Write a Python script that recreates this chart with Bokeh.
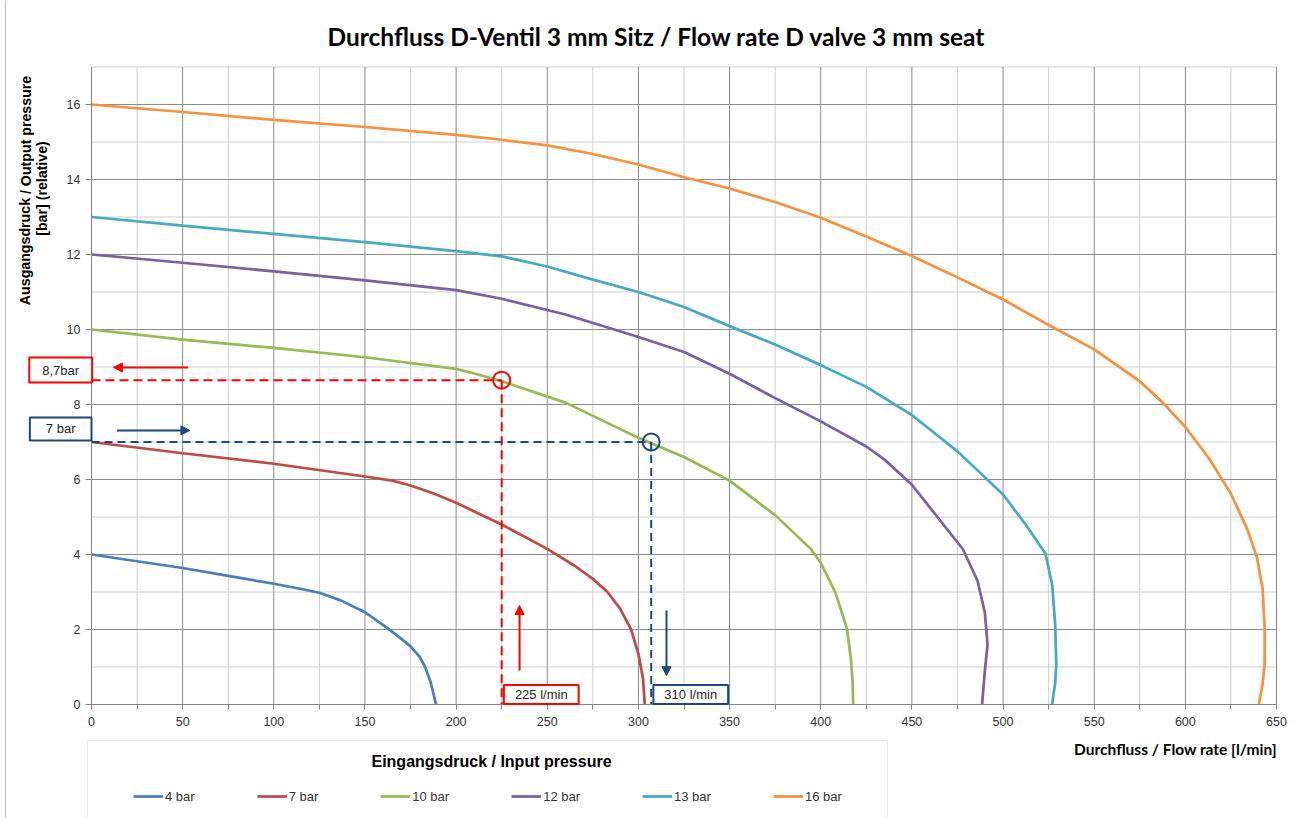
from bokeh.plotting import figure
from bokeh.models import (Range1d, SingleIntervalTicker, Label, Legend, LegendItem,
                          Arrow, NormalHead, Span)
from bokeh.embed import file_html
from bokeh.resources import INLINE

# ---------------- data ----------------
title_text = "Durchfluss D-Ventil 3 mm Sitz / Flow rate D valve 3 mm seat"
x_title = "Durchfluss  / Flow rate  [l/min]"
y_title_1 = "Ausgangsdruck  / Output pressure"
y_title_2 = "[bar] (relative)"
legend_title = "Eingangsdruck / Input pressure"

series_names = ["4 bar", "7 bar", "10 bar", "12 bar", "13 bar", "16 bar"]
series_colors = ["#4A7EBB", "#BE4B48", "#98B954", "#7D60A0", "#46AAC5", "#F69240"]

flow_4 = [0, 25, 50, 75, 100, 115, 125, 137, 150, 162, 170, 175, 180, 183, 186, 187.5, 189]
press_4 = [4.0, 3.82, 3.64, 3.43, 3.22, 3.08, 2.98, 2.77, 2.46, 2.05, 1.75, 1.55, 1.27, 1.0, 0.6, 0.3, 0.0]

flow_7 = [0, 50, 100, 150, 165, 175, 187, 200, 212, 225, 250, 265, 275, 283, 290, 296, 300, 302.5, 303.5]
press_7 = [7.0, 6.70, 6.42, 6.08, 5.97, 5.84, 5.64, 5.38, 5.10, 4.80, 4.15, 3.70, 3.35, 3.0, 2.55, 2.0, 1.35, 0.7, 0.0]

flow_10 = [0, 50, 100, 150, 200, 212, 225, 260, 300, 325, 350, 375, 394.5, 400, 408, 414.3, 416.6, 417.5, 417.8]
press_10 = [10.0, 9.73, 9.51, 9.26, 8.95, 8.80, 8.62, 8.05, 7.11, 6.6, 5.97, 5.05, 4.15, 3.78, 2.99, 2.04, 1.2, 0.6, 0.0]

flow_12 = [0, 50, 100, 150, 200, 225, 260, 300, 325, 350, 375, 400, 425, 435, 450, 464, 478, 486, 490, 491.5, 490, 488.5]
press_12 = [12.0, 11.78, 11.55, 11.31, 11.05, 10.82, 10.40, 9.80, 9.40, 8.82, 8.17, 7.55, 6.88, 6.53, 5.86, 5.0, 4.14, 3.3, 2.46, 1.6, 0.88, 0.0]

flow_13 = [0, 50, 100, 150, 200, 225, 250, 275, 300, 325, 350, 375, 400, 425, 450, 475, 500, 512.7, 523.3, 527, 528.6, 529.2, 528.6, 526.9]
press_13 = [13.0, 12.77, 12.55, 12.33, 12.09, 11.95, 11.68, 11.33, 11.0, 10.6, 10.09, 9.6, 9.05, 8.47, 7.72, 6.75, 5.6, 4.78, 4.02, 3.18, 2.13, 1.08, 0.56, 0.0]

flow_16 = [0, 50, 100, 150, 200, 225, 250, 275, 300, 325, 350, 375, 400, 425, 450, 475, 500, 525, 550, 575, 588, 600, 613, 625, 634, 639.3, 642.4, 643.5, 643.5, 642.4, 640.3]
press_16 = [16.0, 15.80, 15.59, 15.40, 15.19, 15.06, 14.91, 14.68, 14.40, 14.06, 13.76, 13.40, 12.98, 12.48, 11.96, 11.39, 10.80, 10.12, 9.47, 8.62, 8.03, 7.40, 6.56, 5.62, 4.67, 3.92, 3.08, 2.03, 1.07, 0.56, 0.0]

series_flows = [flow_4, flow_7, flow_10, flow_12, flow_13, flow_16]
series_press = [press_4, press_7, press_10, press_12, press_13, press_16]

# example readings (red: 225 l/min -> 8,7 bar ; blue: 7 bar -> 310 l/min)
marker_flow = [225, 307]
marker_press = [8.65, 7.0]
marker_press_text = ["8,7bar", "7 bar"]
marker_flow_text = ["225 l/min", "310 l/min"]
marker_colors = ["#FF0000", "#1F497D"]

x_min, x_max = 0, 650
y_min, y_max = 0, 17

# ---------------- figure (frame = whole canvas) ----------------
W, H = 1304, 818
px_per_x = 1185 / 650.0      # pixels per l/min
px_per_y = 37.5              # pixels per bar
left_px, bottom_px = 91, 704  # where (0, 0) lies on the canvas

p = figure(width=W, height=H,
           x_range=Range1d(-left_px / px_per_x, (W - left_px) / px_per_x),
           y_range=Range1d(-(H - bottom_px) / px_per_y, bottom_px / px_per_y),
           output_backend="svg", toolbar_location=None, min_border=0,
           min_border_left=0, min_border_right=0, min_border_top=0, min_border_bottom=0)
p.title.visible = False
p.background_fill_color = "white"
p.border_fill_color = "white"
p.outline_line_color = None
p.xgrid.visible = False
p.ygrid.visible = False

# axes fixed at the origin
p.xaxis.fixed_location = 0
p.yaxis.fixed_location = 0
p.xaxis.bounds = (x_min, x_max)
p.yaxis.bounds = (y_min, y_max)
p.xaxis.ticker = SingleIntervalTicker(interval=50, num_minor_ticks=2)
p.yaxis.ticker = SingleIntervalTicker(interval=2, num_minor_ticks=2)
for ax in (p.xaxis[0], p.yaxis[0]):
    ax.axis_line_color = "#868686"
    ax.major_tick_line_color = "#868686"
    ax.minor_tick_line_color = "#868686"
    ax.major_tick_in = 0
    ax.minor_tick_in = 0
    ax.major_label_text_font = "Liberation Sans"
    ax.major_label_text_font_size = "12.5px"
    ax.major_label_text_color = "#333333"
p.xaxis.major_tick_out = 5
p.xaxis.minor_tick_out = 5
p.xaxis.major_label_standoff = 7
p.yaxis.major_tick_out = 6
p.yaxis.minor_tick_out = 0
p.yaxis.minor_tick_line_color = None
p.yaxis.major_label_standoff = 5

# grid (every 25 l/min and every 1 bar; darker every 50 l/min / 2 bar)
gx = list(range(x_min, x_max + 1, 25))
gy = list(range(y_min, y_max + 1, 1))
gx_minor = [v for v in gx if v % 50 != 0]
gx_major = [v for v in gx if v % 50 == 0]
gy_minor = [v for v in gy if v % 2 != 0]
gy_major = [v for v in gy if v % 2 == 0]
p.segment(x0=gx_minor, y0=[y_min] * len(gx_minor), x1=gx_minor, y1=[y_max] * len(gx_minor),
          line_color="#D0D0D0", line_width=1, level="underlay")
p.segment(x0=[x_min] * len(gy_minor), y0=gy_minor, x1=[x_max] * len(gy_minor), y1=gy_minor,
          line_color="#D0D0D0", line_width=1, level="underlay")
p.segment(x0=gx_major, y0=[y_min] * len(gx_major), x1=gx_major, y1=[y_max] * len(gx_major),
          line_color="#8C8C8C", line_width=1, level="underlay")
p.segment(x0=[x_min] * len(gy_major), y0=gy_major, x1=[x_max] * len(gy_major), y1=gy_major,
          line_color="#8C8C8C", line_width=1, level="underlay")

# chart-area border on the left
p.add_layout(Span(location=(5 - left_px) / px_per_x, dimension="height",
                  line_color="#BFBFBF", line_width=1))

# curves
renderers = []
for name, fx, py_, col in zip(series_names, series_flows, series_press, series_colors):
    r = p.line(fx, py_, line_color=col, line_width=2.75)
    renderers.append(r)

# ---------------- example readings ----------------
for i in range(2):
    mf, mp, col = marker_flow[i], marker_press[i], marker_colors[i]
    dash = "9 5" if i == 0 else "8 5"
    p.line([0, mf], [mp, mp], line_color=col, line_width=2, line_dash=dash)
    p.line([mf, mf], [mp, 0], line_color=col, line_width=2, line_dash=dash)
    p.scatter([mf], [mp], marker="circle", size=17, fill_color=None, line_color=col, line_width=2)

def head(c):
    return NormalHead(size=9, fill_color=c, line_color=c)

p.add_layout(Arrow(x_start=53, y_start=marker_press[0] + 0.34, x_end=12, y_end=marker_press[0] + 0.34,
                   line_color=marker_colors[0], line_width=2, end=head(marker_colors[0])))
p.add_layout(Arrow(x_start=14, y_start=marker_press[1] + 0.31, x_end=54, y_end=marker_press[1] + 0.31,
                   line_color=marker_colors[1], line_width=2, end=head(marker_colors[1])))
p.add_layout(Arrow(x_start=marker_flow[0] + 9.8, y_start=0.91, x_end=marker_flow[0] + 9.8, y_end=2.64,
                   line_color=marker_colors[0], line_width=2, end=head(marker_colors[0])))
p.add_layout(Arrow(x_start=marker_flow[1] + 8.4, y_start=2.51, x_end=marker_flow[1] + 8.4, y_end=0.77,
                   line_color=marker_colors[1], line_width=2, end=head(marker_colors[1])))

# boxed texts
press_box_dy = [0.27, 0.35]
press_box_pad = [(13, 5), (16, 4)]
for i in range(2):
    p.add_layout(Label(x=-16.9, y=marker_press[i] + press_box_dy[i], text=marker_press_text[i],
                       text_align="center", text_baseline="middle",
                       text_font="Liberation Sans", text_font_size="13px", text_color="#262626",
                       border_line_color=marker_colors[i], border_line_width=2,
                       background_fill_color="white", padding=press_box_pad[i]))
    p.add_layout(Label(x=marker_flow[i] + 21.7, y=0.27, text=marker_flow_text[i],
                       text_align="center", text_baseline="middle",
                       text_font="Liberation Sans", text_font_size="13px", text_color="#262626",
                       border_line_color=marker_colors[i], border_line_width=2,
                       background_fill_color="white", padding=(11, 2)))

# ---------------- texts ----------------
p.add_layout(Label(x=(656 - left_px) / px_per_x, y=(bottom_px - 36) / px_per_y, text=title_text,
                   text_align="center", text_baseline="middle",
                   text_font="Lato", text_font_style="bold", text_font_size="24.5px",
                   text_color="#000000"))
p.add_layout(Label(x=(1284 - left_px) / px_per_x, y=(bottom_px - 748) / px_per_y, text=x_title,
                   text_align="right", text_baseline="middle",
                   text_font="Lato", text_font_style="bold", text_font_size="15.5px",
                   text_color="#000000"))
p.add_layout(Label(x=(25 - left_px) / px_per_x, y=(bottom_px - 188) / px_per_y, text=y_title_1,
                   angle=1.5707963, text_align="center", text_baseline="middle",
                   text_font="Liberation Sans", text_font_style="bold", text_font_size="14.2px",
                   text_color="#000000"))
p.add_layout(Label(x=(41 - left_px) / px_per_x, y=(bottom_px - 188) / px_per_y, text=y_title_2,
                   angle=1.5707963, text_align="center", text_baseline="middle",
                   text_font="Liberation Sans", text_font_style="bold", text_font_size="14.2px",
                   text_color="#000000"))

# ---------------- legend ----------------
legend = Legend(items=[LegendItem(label=n, renderers=[r]) for n, r in zip(series_names, renderers)],
                orientation="horizontal", location=(87, -34), padding=45, spacing=62,
                glyph_width=30, glyph_height=20, label_standoff=2, margin=0,
                label_text_font="Liberation Sans", label_text_font_size="13px",
                label_text_color="#333333", border_line_color="#D9D9D9",
                background_fill_alpha=0)
p.add_layout(legend, "center")
p.add_layout(Label(x=(491 - left_px) / px_per_x, y=(bottom_px - 761) / px_per_y, text=legend_title,
                   text_align="center", text_baseline="middle",
                   text_font="Liberation Sans", text_font_style="bold", text_font_size="16px",
                   text_color="#000000"))

open("out.html", "w").write(file_html(p, INLINE))
